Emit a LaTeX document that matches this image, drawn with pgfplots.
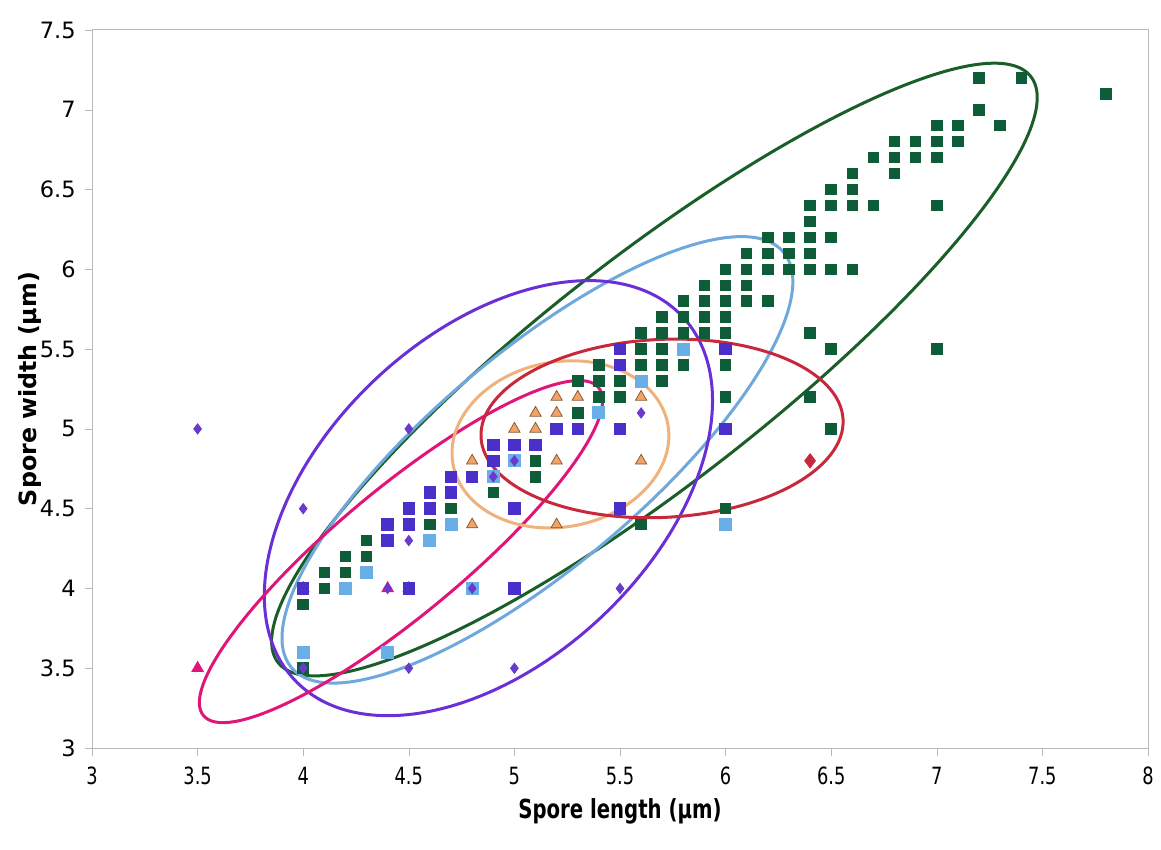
\documentclass[border=0pt]{standalone}
\usepackage{fontspec}
\setmainfont{DejaVu Sans}
\newfontfamily\narrowfont[FakeStretch=0.75]{DejaVu Sans}
\usepackage{pgfplots}
\pgfplotsset{compat=1.18}
\definecolor{cgreen}{HTML}{0E5C38}
\definecolor{egreen}{HTML}{1A5E28}
\definecolor{clblue}{HTML}{6AAEE8}
\definecolor{elblue}{HTML}{6FA8DC}
\definecolor{cblue}{HTML}{4A30C8}
\definecolor{cpurple}{HTML}{6A3ACB}
\definecolor{epurple}{HTML}{6A2FD6}
\definecolor{cmag}{HTML}{E0157A}
\definecolor{ctan}{HTML}{F2A468}
\definecolor{etan}{HTML}{F0B27A}
\definecolor{cred}{HTML}{C8283C}
\begin{document}
\begin{tikzpicture}
\begin{axis}[
  scale only axis, width=422.4pt, height=287.2pt,
  xmin=3, xmax=8, ymin=3, ymax=7.5,
  xtick={3,3.5,...,8}, ytick={3,3.5,...,7.5},
  axis line style={draw=gray!55},
  tick style={draw=gray!55},
  major tick length=3pt,
  tick align=outside, xtick pos=bottom, ytick pos=left,
  /pgf/number format/assume math mode=true,
  xticklabel style={font=\narrowfont\fontsize{9.5}{11}\selectfont, yshift=-1pt},
  yticklabel style={font=\fontsize{9}{11}\selectfont},
  xlabel={Spore length (μm)}, ylabel={Spore width (μm)},
  xlabel style={font=\narrowfont\bfseries\fontsize{10.5}{12}\selectfont, at={(axis description cs:0.5,-0.088)}, anchor=center},
  ylabel style={font=\bfseries\fontsize{9.5}{12}\selectfont, at={(axis description cs:-0.0587,0.5)}, anchor=center},
]
\coordinate (SW) at (rel axis cs:0,0);
\coordinate (NE) at (rel axis cs:1,1);
% light blue squares
\addplot[only marks, mark=square*, mark size=2.4pt, color=clblue] coordinates {
(4.0,3.6) (4.4,3.6) (4.2,4.0) (4.3,4.1) (4.6,4.3) (4.7,4.4) (4.9,4.7) (5.0,4.8)
(5.4,5.1) (5.6,5.3) (5.8,5.5) (6.0,4.4) (4.8,4.0)
};
% dark green squares
\addplot[only marks, mark=square*, mark size=2.1pt, color=cgreen] coordinates {
(7.2,7.2) (7.4,7.2) (7.8,7.1) (7.2,7.0) (7.3,6.9) (7.0,6.9) (7.1,6.9)
(6.8,6.8) (6.9,6.8) (7.0,6.8) (7.1,6.8)
(6.7,6.7) (6.8,6.7) (6.9,6.7) (7.0,6.7)
(6.6,6.6) (6.8,6.6) (6.5,6.5) (6.6,6.5)
(6.4,6.4) (6.5,6.4) (6.6,6.4) (6.7,6.4) (7.0,6.4) (6.4,6.3)
(6.2,6.2) (6.3,6.2) (6.4,6.2) (6.5,6.2)
(6.1,6.1) (6.2,6.1) (6.3,6.1) (6.4,6.1)
(6.1,6.0) (6.2,6.0) (6.3,6.0) (6.4,6.0) (6.5,6.0) (6.6,6.0)
(6.1,5.9) (6.1,5.8) (6.2,5.8)
(6.4,5.6) (6.5,5.5) (7.0,5.5) (6.4,5.2) (6.5,5.0)
(6.0,6.0) (6.0,5.9) (6.0,5.8) (6.0,5.7) (6.0,5.6) (6.0,5.4) (6.0,5.2) (6.0,4.5)
(5.9,5.9) (5.9,5.8) (5.9,5.7) (5.9,5.6)
(5.8,5.8) (5.8,5.7) (5.8,5.6) (5.8,5.4)
(5.7,5.7) (5.7,5.6) (5.7,5.5) (5.7,5.4) (5.7,5.3)
(5.6,5.6) (5.6,5.5) (5.6,5.4) (5.6,4.4)
(5.5,5.3) (5.5,5.2)
(5.4,5.4) (5.4,5.3) (5.4,5.2)
(5.3,5.3) (5.3,5.1)
(5.1,4.8) (5.1,4.7) (4.9,4.6)
(4.7,4.5) (4.6,4.4)
(4.3,4.3) (4.3,4.2) (4.2,4.2) (4.2,4.1) (4.1,4.1) (4.1,4.0)
(4.0,3.9) (4.0,3.5)
};
% magenta triangles
\addplot[only marks, mark=triangle*, mark size=2.6pt, color=cmag] coordinates {
(3.5,3.5) (4.0,4.0) (4.4,4.0) (4.5,4.0)
};
% blue squares
\addplot[only marks, mark=square*, mark size=2.3pt, color=cblue] coordinates {
(4.0,4.0) (4.4,4.4) (4.4,4.3) (4.5,4.5) (4.5,4.4) (4.5,4.0)
(4.6,4.6) (4.6,4.5) (4.7,4.7) (4.7,4.6) (4.8,4.7)
(4.9,4.9) (4.9,4.8) (5.0,4.9) (5.0,4.5) (5.0,4.0)
(5.1,4.9) (5.2,5.0) (5.3,5.0)
(5.5,5.5) (5.5,5.4) (5.5,5.0) (5.5,4.5)
(6.0,5.5) (6.0,5.0)
};
% purple diamonds
\addplot[only marks, mark=diamond*, mark size=2pt, color=cpurple] coordinates {
(3.5,5.0) (4.0,4.5) (4.5,5.0) (4.5,4.3) (4.5,3.5) (5.0,3.5) (5.5,4.0)
(5.6,5.1) (4.9,4.7) (5.0,4.8) (4.8,4.0) (4.0,3.5) (4.4,4.0)
};
% tan triangles
\addplot[only marks, mark=triangle*, mark size=2.6pt, draw=brown!70!black, fill=ctan, line width=0.3pt] coordinates {
(4.8,4.8) (4.8,4.4) (5.0,5.0) (5.1,5.1) (5.1,5.0) (5.2,5.2) (5.2,5.1)
(5.2,4.8) (5.2,4.4) (5.3,5.2) (5.6,5.2) (5.6,4.8)
};
% red diamond
\addplot[only marks, mark=diamond*, mark size=2.8pt, color=cred] coordinates {
(6.4,4.8)
};
% ellipses
\draw[egreen, line width=1.2pt] (axis cs:5.663,5.372) circle[x radius=190.8pt, y radius=45.2pt, rotate=37.9];
\draw[elblue, line width=1.2pt] (axis cs:5.109,4.806) circle[x radius=128.8pt, y radius=42.6pt, rotate=40.2];
\draw[epurple, line width=1.2pt] (axis cs:4.877,4.566) circle[x radius=106.3pt, y radius=65.6pt, rotate=43.1];
\draw[cmag, line width=1.2pt] (axis cs:4.463,4.231) circle[x radius=102.7pt, y radius=25.2pt, rotate=39.7];
\draw[etan, line width=1.2pt] (axis cs:5.218,4.903) circle[x radius=43.7pt, y radius=33pt, rotate=10.8];
\draw[cred, line width=1.2pt] (axis cs:5.699,5.003) circle[x radius=72.5pt, y radius=35.6pt, rotate=2.8];
\end{axis}
\pgfresetboundingbox
\path ([shift={(-36.8pt,-40.4pt)}]SW) rectangle ([shift={(5.2pt,12pt)}]NE);
\end{tikzpicture}
\end{document}
